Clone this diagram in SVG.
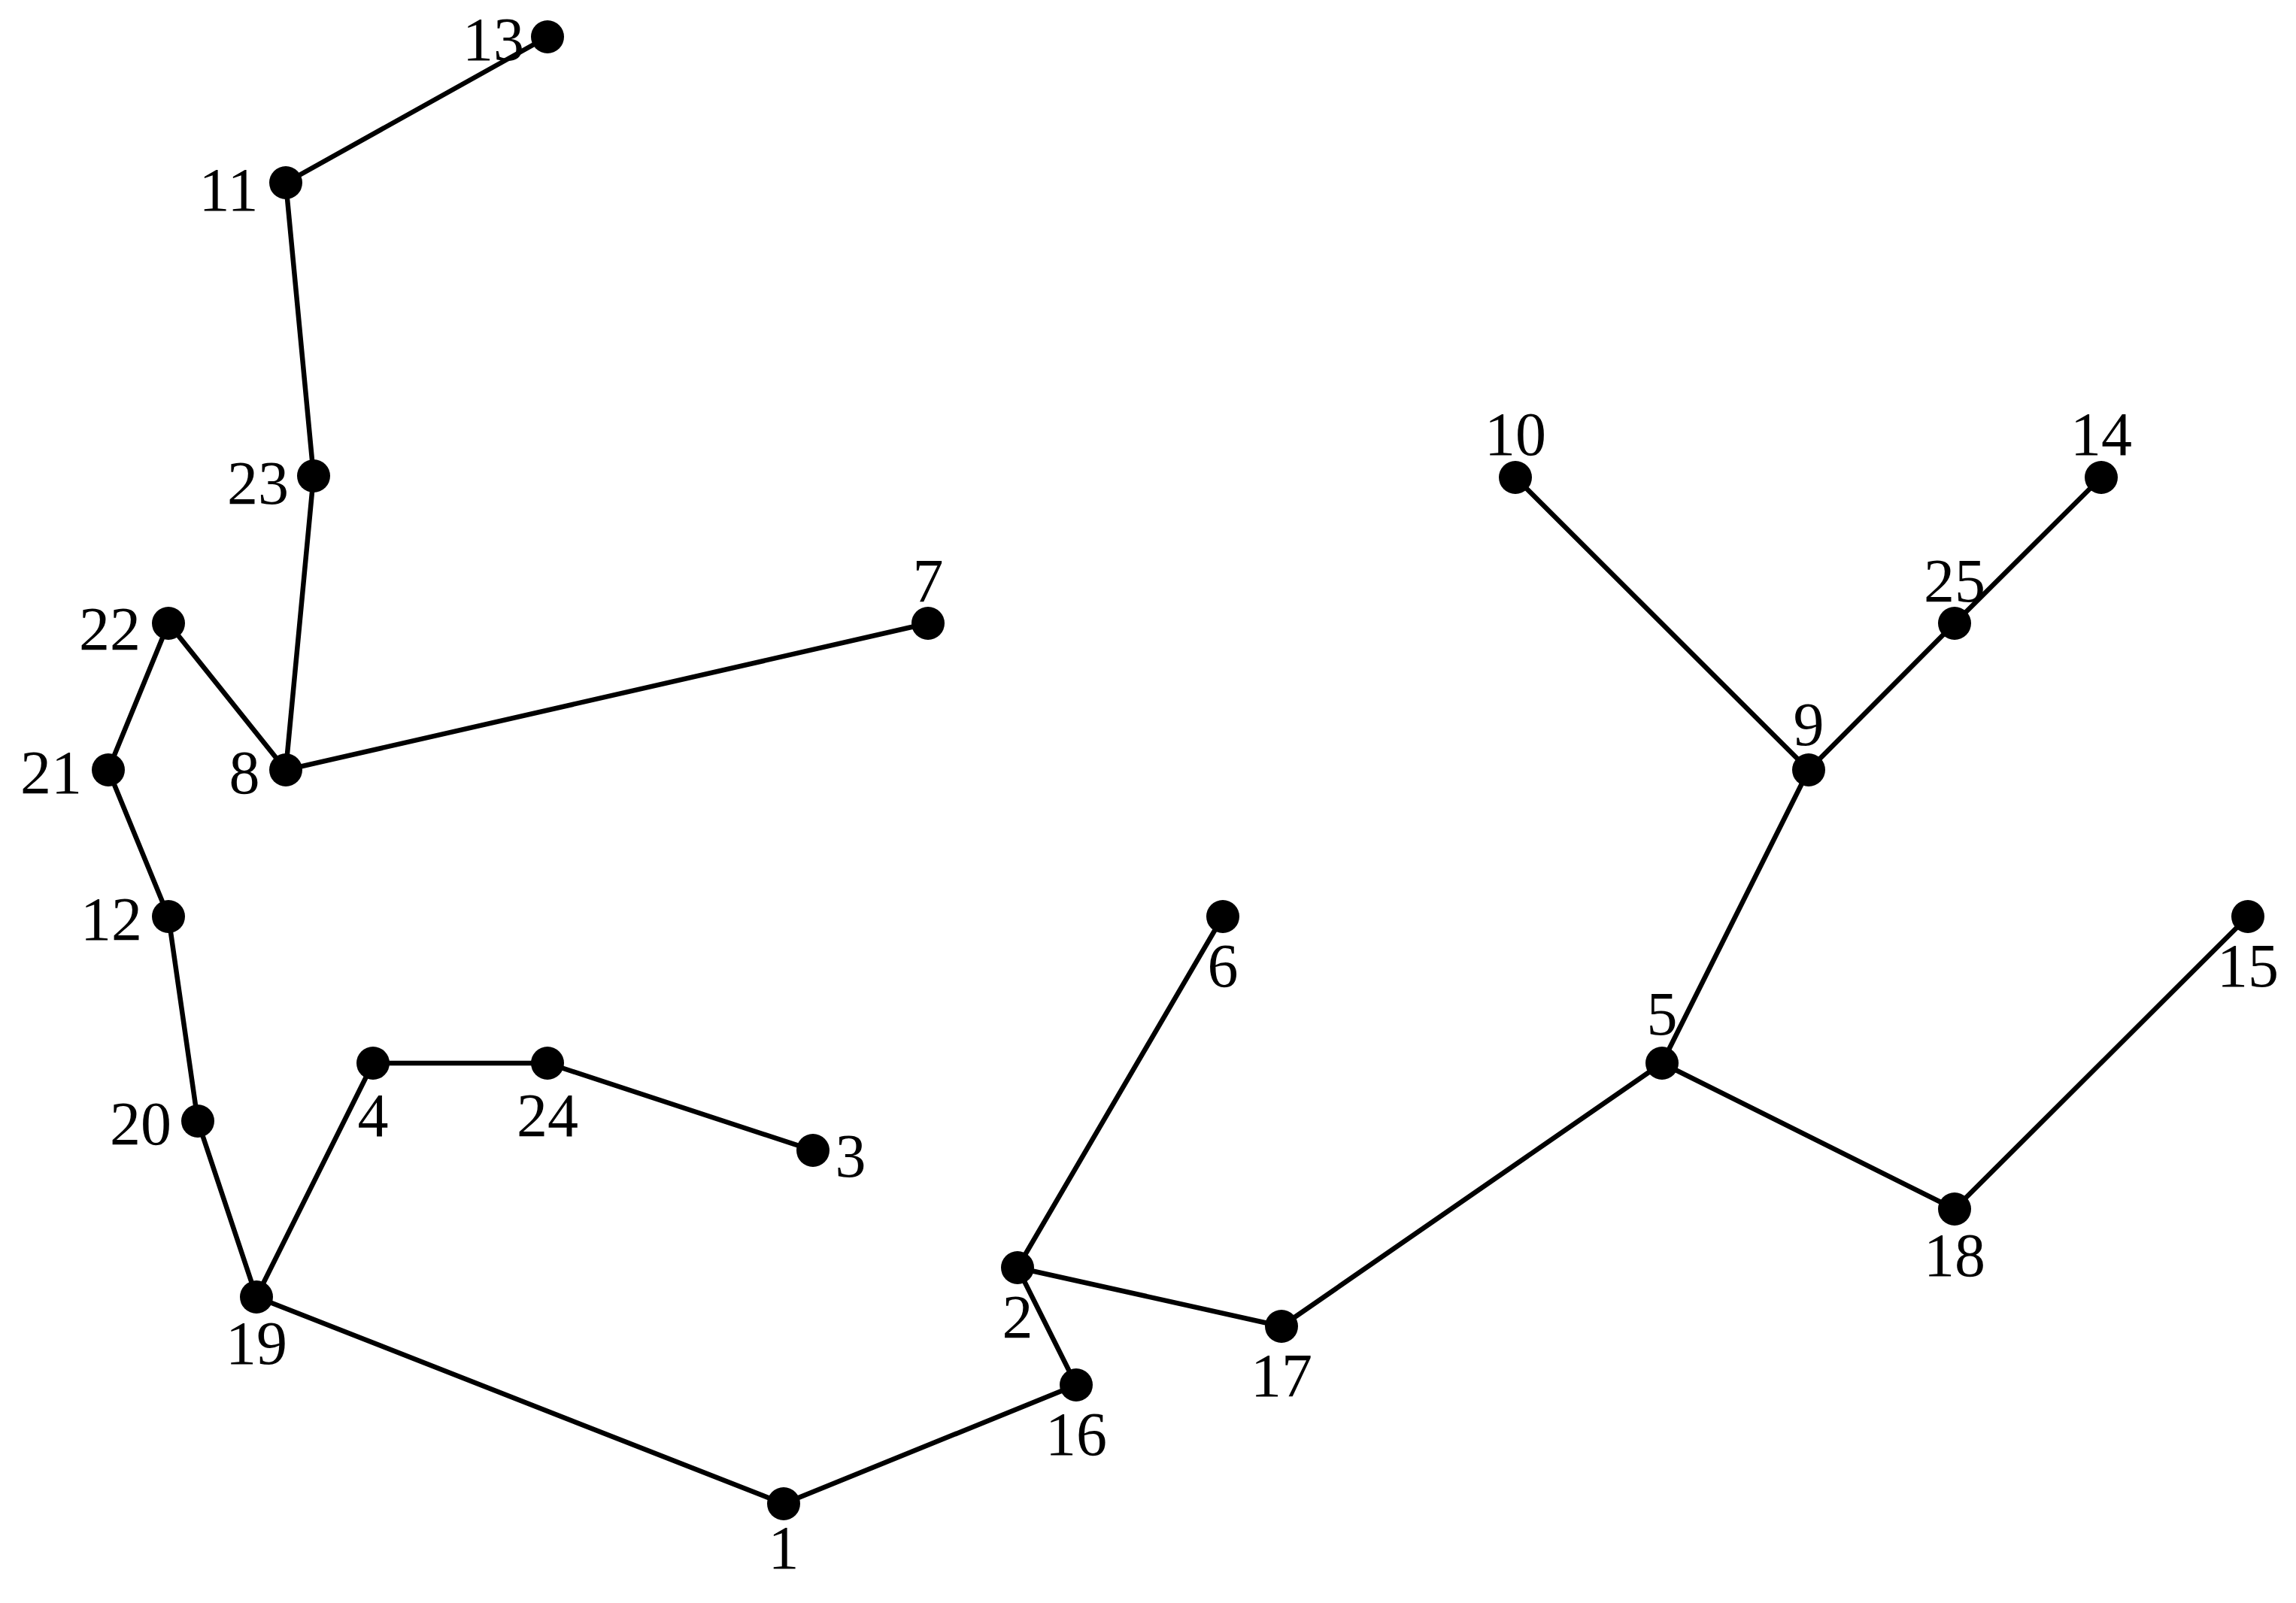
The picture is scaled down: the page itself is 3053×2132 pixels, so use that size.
<svg xmlns="http://www.w3.org/2000/svg" width="3053" height="2132" viewBox="0 0 3053 2132">
<style>
.e line{stroke:#000;stroke-width:6.5;stroke-linecap:round}
.n circle{fill:#000}
.n text{font-family:"Liberation Serif","DejaVu Serif",serif;font-size:82px;fill:#000;text-anchor:middle}
</style>
<rect width="3053" height="2132" fill="#fff"/>
<g class="e" id="edges">
<line x1="728" y1="49" x2="380" y2="243"/>
<line x1="380" y1="243" x2="417" y2="633"/>
<line x1="417" y1="633" x2="380" y2="1024"/>
<line x1="380" y1="1024" x2="224" y2="829"/>
<line x1="224" y1="829" x2="144" y2="1024"/>
<line x1="144" y1="1024" x2="224" y2="1219"/>
<line x1="224" y1="1219" x2="263" y2="1491"/>
<line x1="263" y1="1491" x2="341" y2="1725"/>
<line x1="341" y1="1725" x2="496" y2="1414"/>
<line x1="496" y1="1414" x2="728" y2="1414"/>
<line x1="728" y1="1414" x2="1081" y2="1530"/>
<line x1="341" y1="1725" x2="1042" y2="2000"/>
<line x1="1042" y1="2000" x2="1431" y2="1842"/>
<line x1="1431" y1="1842" x2="1353" y2="1686"/>
<line x1="1353" y1="1686" x2="1626" y2="1219"/>
<line x1="1353" y1="1686" x2="1704" y2="1764"/>
<line x1="1704" y1="1764" x2="2210" y2="1414"/>
<line x1="2210" y1="1414" x2="2405" y2="1024"/>
<line x1="2405" y1="1024" x2="2015" y2="635"/>
<line x1="2405" y1="1024" x2="2599" y2="829"/>
<line x1="2599" y1="829" x2="2794" y2="635"/>
<line x1="2210" y1="1414" x2="2599" y2="1608"/>
<line x1="2599" y1="1608" x2="2989" y2="1219"/>
<line x1="380" y1="1024" x2="1234" y2="829"/>
</g>
<g class="n" id="n1"><circle cx="1042" cy="2000" r="22"/><text x="1042" y="2086">1</text></g>
<g class="n" id="n2"><circle cx="1353" cy="1686" r="22"/><text x="1353" y="1779">2</text></g>
<g class="n" id="n3"><circle cx="1081" cy="1530" r="22"/><text x="1131" y="1565">3</text></g>
<g class="n" id="n4"><circle cx="496" cy="1414" r="22"/><text x="496" y="1511">4</text></g>
<g class="n" id="n5"><circle cx="2210" cy="1414" r="22"/><text x="2210" y="1376">5</text></g>
<g class="n" id="n6"><circle cx="1626" cy="1219" r="22"/><text x="1626" y="1312">6</text></g>
<g class="n" id="n7"><circle cx="1234" cy="829" r="22"/><text x="1234" y="800">7</text></g>
<g class="n" id="n8"><circle cx="380" cy="1024" r="22"/><text x="325" y="1055">8</text></g>
<g class="n" id="n9"><circle cx="2405" cy="1024" r="22"/><text x="2405" y="991">9</text></g>
<g class="n" id="n10"><circle cx="2015" cy="635" r="22"/><text x="2015" y="605">10</text></g>
<g class="n" id="n11"><circle cx="380" cy="243" r="22"/><text x="304" y="280">11</text></g>
<g class="n" id="n12"><circle cx="224" cy="1219" r="22"/><text x="148" y="1250">12</text></g>
<g class="n" id="n13"><circle cx="728" cy="49" r="22"/><text x="656" y="80">13</text></g>
<g class="n" id="n14"><circle cx="2794" cy="635" r="22"/><text x="2794" y="605">14</text></g>
<g class="n" id="n15"><circle cx="2989" cy="1219" r="22"/><text x="2989" y="1312">15</text></g>
<g class="n" id="n16"><circle cx="1431" cy="1842" r="22"/><text x="1431" y="1935">16</text></g>
<g class="n" id="n17"><circle cx="1704" cy="1764" r="22"/><text x="1704" y="1857">17</text></g>
<g class="n" id="n18"><circle cx="2599" cy="1608" r="22"/><text x="2599" y="1697">18</text></g>
<g class="n" id="n19"><circle cx="341" cy="1725" r="22"/><text x="341" y="1814">19</text></g>
<g class="n" id="n20"><circle cx="263" cy="1491" r="22"/><text x="187" y="1522">20</text></g>
<g class="n" id="n21"><circle cx="144" cy="1024" r="22"/><text x="68" y="1055">21</text></g>
<g class="n" id="n22"><circle cx="224" cy="829" r="22"/><text x="146" y="864">22</text></g>
<g class="n" id="n23"><circle cx="417" cy="633" r="22"/><text x="343" y="670">23</text></g>
<g class="n" id="n24"><circle cx="728" cy="1414" r="22"/><text x="728" y="1511">24</text></g>
<g class="n" id="n25"><circle cx="2599" cy="829" r="22"/><text x="2599" y="800">25</text></g>
</svg>
